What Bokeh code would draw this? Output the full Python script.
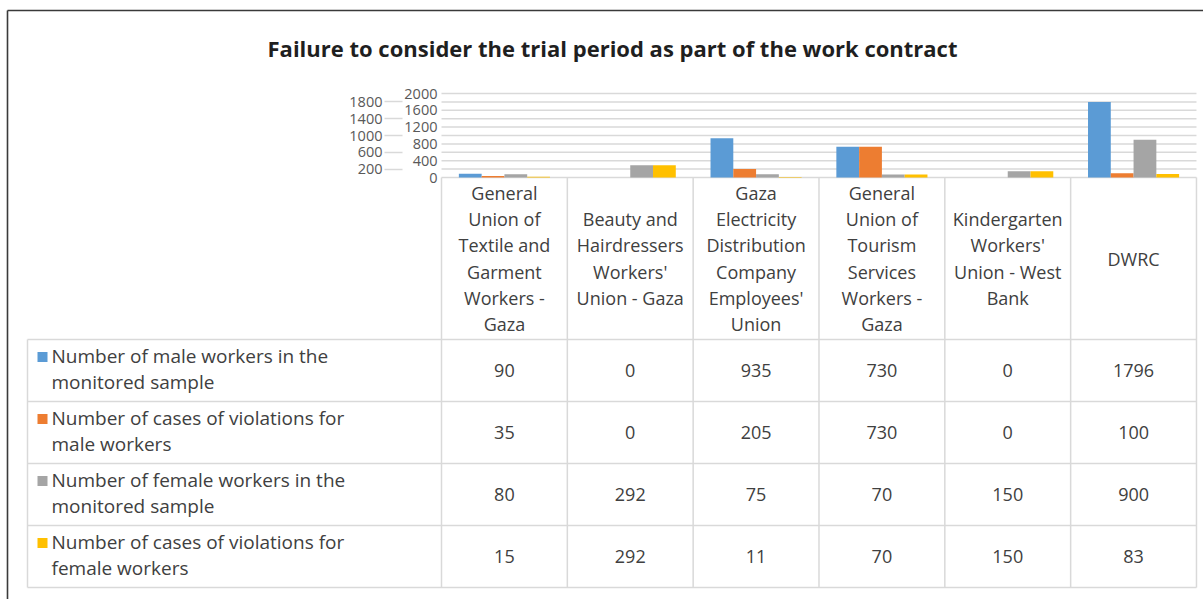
from bokeh.plotting import figure
from bokeh.models import ColumnDataSource, Range1d, LinearAxis, FixedTicker
from bokeh.core.properties import value
from bokeh.embed import file_html
from bokeh.resources import INLINE

title = "Failure to consider the trial period as part of the work contract"
categories = [
    "General Union of Textile and Garment Workers - Gaza",
    "Beauty and Hairdressers Workers' Union - Gaza",
    "Gaza Electricity Distribution Company Employees' Union",
    "General Union of Tourism Services Workers - Gaza",
    "Kindergarten Workers' Union - West Bank",
    "DWRC",
]
category_lines = [
    "General\nUnion of\nTextile and\nGarment\nWorkers -\nGaza",
    "Beauty and\nHairdressers\nWorkers'\nUnion - Gaza",
    "Gaza\nElectricity\nDistribution\nCompany\nEmployees'\nUnion",
    "General\nUnion of\nTourism\nServices\nWorkers -\nGaza",
    "Kindergarten\nWorkers'\nUnion - West\nBank",
    "DWRC",
]
series_lines = [
    "Number of male workers in the\nmonitored sample",
    "Number of cases of violations for\nmale workers",
    "Number of female workers in the\nmonitored sample",
    "Number of cases of violations for\nfemale workers",
]
male_sample = [90, 0, 935, 730, 0, 1796]
male_violations = [35, 0, 205, 730, 0, 100]
female_sample = [80, 292, 75, 70, 150, 900]
female_violations = [15, 292, 11, 70, 150, 83]
series_values = [male_sample, male_violations, female_sample, female_violations]
colors = ["#5B9BD5", "#ED7D31", "#A5A5A5", "#FFC000"]
ticks_inner = [0, 400, 800, 1200, 1600, 2000]
ticks_outer = [200, 600, 1000, 1400, 1800]

FONT = "Open Sans"
TXT = "#404040"
GRID = "#d9d9d9"
W, H = 1203, 599
LINE_H = 1.085

# pixel layout of the canvas (page origin = canvas origin)
COL0_PX, COL_W = 441.0, 125.83      # first category column left edge, column width
TABLE_BOTTOM_PX, ROW_PX = 587.0, 62.0
HEADER_TOP_PX = 177.0
Y2000_PX = 93.0
LEFT_PX = 27.0

def xpx(px):
    return (px - COL0_PX) / COL_W

def ypx(py):
    return (TABLE_BOTTOM_PX - py) / ROW_PX

n = len(categories)
nrows = len(series_values)
ymax = max(ticks_inner)
units_per_px = ymax / (HEADER_TOP_PX - Y2000_PX)

p = figure(x_range=Range1d(xpx(0), xpx(W)), y_range=Range1d(ypx(H), ypx(0)),
           width=W, height=H, output_backend="svg", toolbar_location=None,
           min_border=0, min_border_left=0, min_border_right=0,
           min_border_top=0, min_border_bottom=0)
p.extra_y_ranges = {"bars": Range1d(-(H - HEADER_TOP_PX) * units_per_px,
                                    ymax + Y2000_PX * units_per_px)}
p.outline_line_color = None
p.axis.visible = False
p.grid.visible = False

# gridlines of the value axis (span the category columns only)
all_ticks = sorted(ticks_inner + ticks_outer)
p.segment(x0=[0] * len(all_ticks), x1=[n] * len(all_ticks), y0=all_ticks, y1=all_ticks,
          y_range_name="bars", line_color=GRID, line_width=1.5)

# bars
bw = 0.181
offsets = [-1.5 * bw, -0.5 * bw, 0.5 * bw, 1.5 * bw]
for k, vals in enumerate(series_values):
    src = ColumnDataSource(dict(x=[i + 0.5 + offsets[k] for i in range(n)], top=vals))
    p.vbar(x="x", top="top", bottom=0, width=bw, source=src, y_range_name="bars",
           fill_color=colors[k], line_color=None)

# value axes (two staggered label columns, like the reference)
ax = LinearAxis(y_range_name="bars", fixed_location=0, ticker=FixedTicker(ticks=ticks_inner))
ax.axis_line_color = None
ax.major_tick_line_color = None
ax.major_tick_out = 0
ax.major_tick_in = 0
ax.minor_tick_line_color = None
ax.major_label_standoff = 4
ax.major_label_text_font = FONT
ax.major_label_text_font_size = "14.5px"
ax.major_label_text_color = "#595959"
p.add_layout(ax, "left")

ax2 = LinearAxis(y_range_name="bars", fixed_location=xpx(402),
                 ticker=FixedTicker(ticks=ticks_outer))
ax2.axis_line_color = None
ax2.major_tick_out = 18
ax2.major_tick_in = 0
ax2.major_tick_line_color = GRID
ax2.major_tick_line_width = 1.5
ax2.minor_tick_line_color = None
ax2.major_label_standoff = 2
ax2.major_label_text_font = FONT
ax2.major_label_text_font_size = "14.5px"
ax2.major_label_text_color = "#595959"
p.add_layout(ax2, "left")

# title
p.text(x=[xpx(612)], y=[ypx(47)], text=[title], text_align="center", text_baseline="middle",
       text_font=value(FONT), text_font_style="bold", text_font_size="22px",
       text_color="#1f1f1f")

# chart-area border (left and top)
p.segment(x0=[xpx(7), xpx(7)], x1=[xpx(7), xpx(W + 2)], y0=[ypx(10), ypx(10)],
          y1=[ypx(H + 2), ypx(10)], line_color="#3a3a3a", line_width=1.6)

# ---------------- data table ----------------
xl = xpx(LEFT_PX)
header_top = ypx(HEADER_TOP_PX)
hy = list(range(nrows + 1))
p.segment(x0=[xl] * len(hy), x1=[n] * len(hy), y0=hy, y1=hy, line_color=GRID, line_width=1.5)
vx = list(range(n + 1))
p.segment(x0=vx, x1=vx, y0=[0] * len(vx), y1=[header_top] * len(vx),
          line_color=GRID, line_width=1.5)
p.segment(x0=[xl], x1=[xl], y0=[0], y1=[nrows], line_color=GRID, line_width=1.5)

p.text(x=[i + 0.5 for i in range(n)], y=[nrows + (header_top - nrows) / 2] * n,
       text=category_lines, text_align="center", text_baseline="middle",
       text_font=value(FONT), text_font_size="18px", text_color=TXT,
       text_line_height=LINE_H)

row_c = [nrows - 0.5 - k for k in range(nrows)]
p.rect(x=[xpx(42)] * nrows, y=[c + 13.5 / ROW_PX for c in row_c], width=10, height=10,
       width_units="screen", height_units="screen", fill_color=colors, line_color=None)
p.text(x=[xpx(51)] * nrows, y=[c + 1.5 / ROW_PX for c in row_c], text=series_lines,
       text_align="left", text_baseline="middle", text_font=value(FONT),
       text_font_size="19px", text_color=TXT, text_line_height=LINE_H * 17.7 / 19)

vx_, vy_, vt_ = [], [], []
for k, vals in enumerate(series_values):
    for i, v in enumerate(vals):
        vx_.append(i + 0.5)
        vy_.append(row_c[k])
        vt_.append(str(v))
p.text(x=vx_, y=vy_, text=vt_, text_align="center", text_baseline="middle",
       text_font=value(FONT), text_font_size="18px", text_color=TXT)

open("out.html", "w").write(file_html(p, INLINE))
